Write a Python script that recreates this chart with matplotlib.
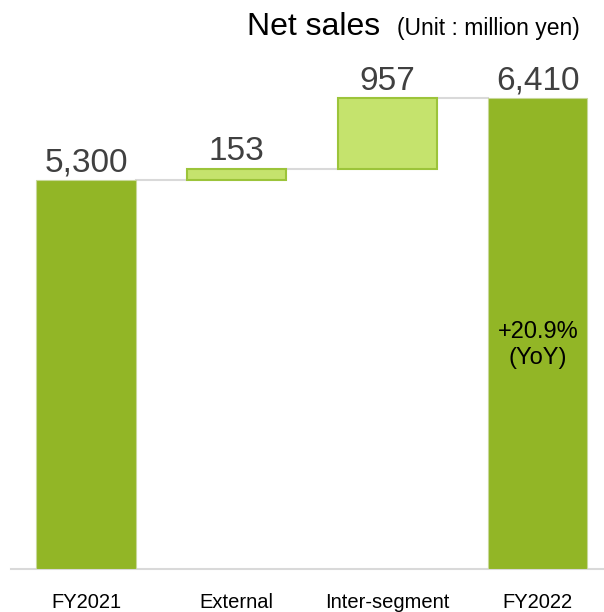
import matplotlib.pyplot as plt

# Dados do gráfico (unidade: milhões de ienes)
categories = ['FY2021', 'External', 'Inter-segment', 'FY2022']
values = [5300, 153, 957, 6410]
is_total = [True, False, False, True]
value_labels = ['5,300', '153', '957', '6,410']
yoy_label = '+20.9%\n(YoY)'

plt.rcParams['font.family'] = ['Liberation Sans', 'DejaVu Sans']

dark_green = '#92B626'
light_green = '#C5E36D'
light_edge = '#9CC43A'
grey_line = '#D9D9D9'

fig = plt.figure(figsize=(6.04, 6.12), dpi=100)
ax = fig.add_axes([0.018, 0.0703, 0.997, 0.84])

# Cálculo das bases da cascata
bottoms = []
running = 0
for v, t in zip(values, is_total):
    if t:
        bottoms.append(0)
        running = v
    else:
        bottoms.append(running)
        running += v

x = list(range(len(categories)))
width = 0.66
for i, (v, b, t) in enumerate(zip(values, bottoms, is_total)):
    if t:
        ax.bar(i, v, width, bottom=b, color=dark_green, edgecolor='#C8D89A',
               linewidth=0.8, zorder=3)
    else:
        ax.bar(i, v, width, bottom=b, color=light_green, edgecolor=light_edge,
               linewidth=1.5, zorder=3)
    ax.text(i, b + v + 20, value_labels[i], ha='center', va='bottom',
            fontsize=24, color='#404040')

# Linhas de conexão entre as barras
for i in range(len(values) - 1):
    level = bottoms[i] + values[i]
    ax.plot([i + width / 2, i + 1 - width / 2], [level, level],
            color=grey_line, linewidth=1.5, zorder=2)

ax.text(3, 3050, yoy_label, ha='center', va='center', fontsize=17,
        color='black', linespacing=1.25, zorder=4)

ax.set_xlim(-0.5, 3.5)
ax.set_ylim(0, 7000)
for s in ['top', 'right', 'left']:
    ax.spines[s].set_visible(False)
ax.spines['bottom'].set_color(grey_line)
ax.spines['bottom'].set_linewidth(1.5)
ax.set_yticks([])
ax.set_xticks(x)
ax.set_xticklabels(categories, fontsize=14.5, color='black')
ax.tick_params(axis='x', length=0, pad=17)

fig.text(0.629, 0.943, 'Net sales', fontsize=23, ha='right', va='baseline')
fig.text(0.96, 0.943, '(Unit : million yen)', fontsize=16.5, ha='right',
         va='baseline')

fig.savefig('out.png', dpi=100)
